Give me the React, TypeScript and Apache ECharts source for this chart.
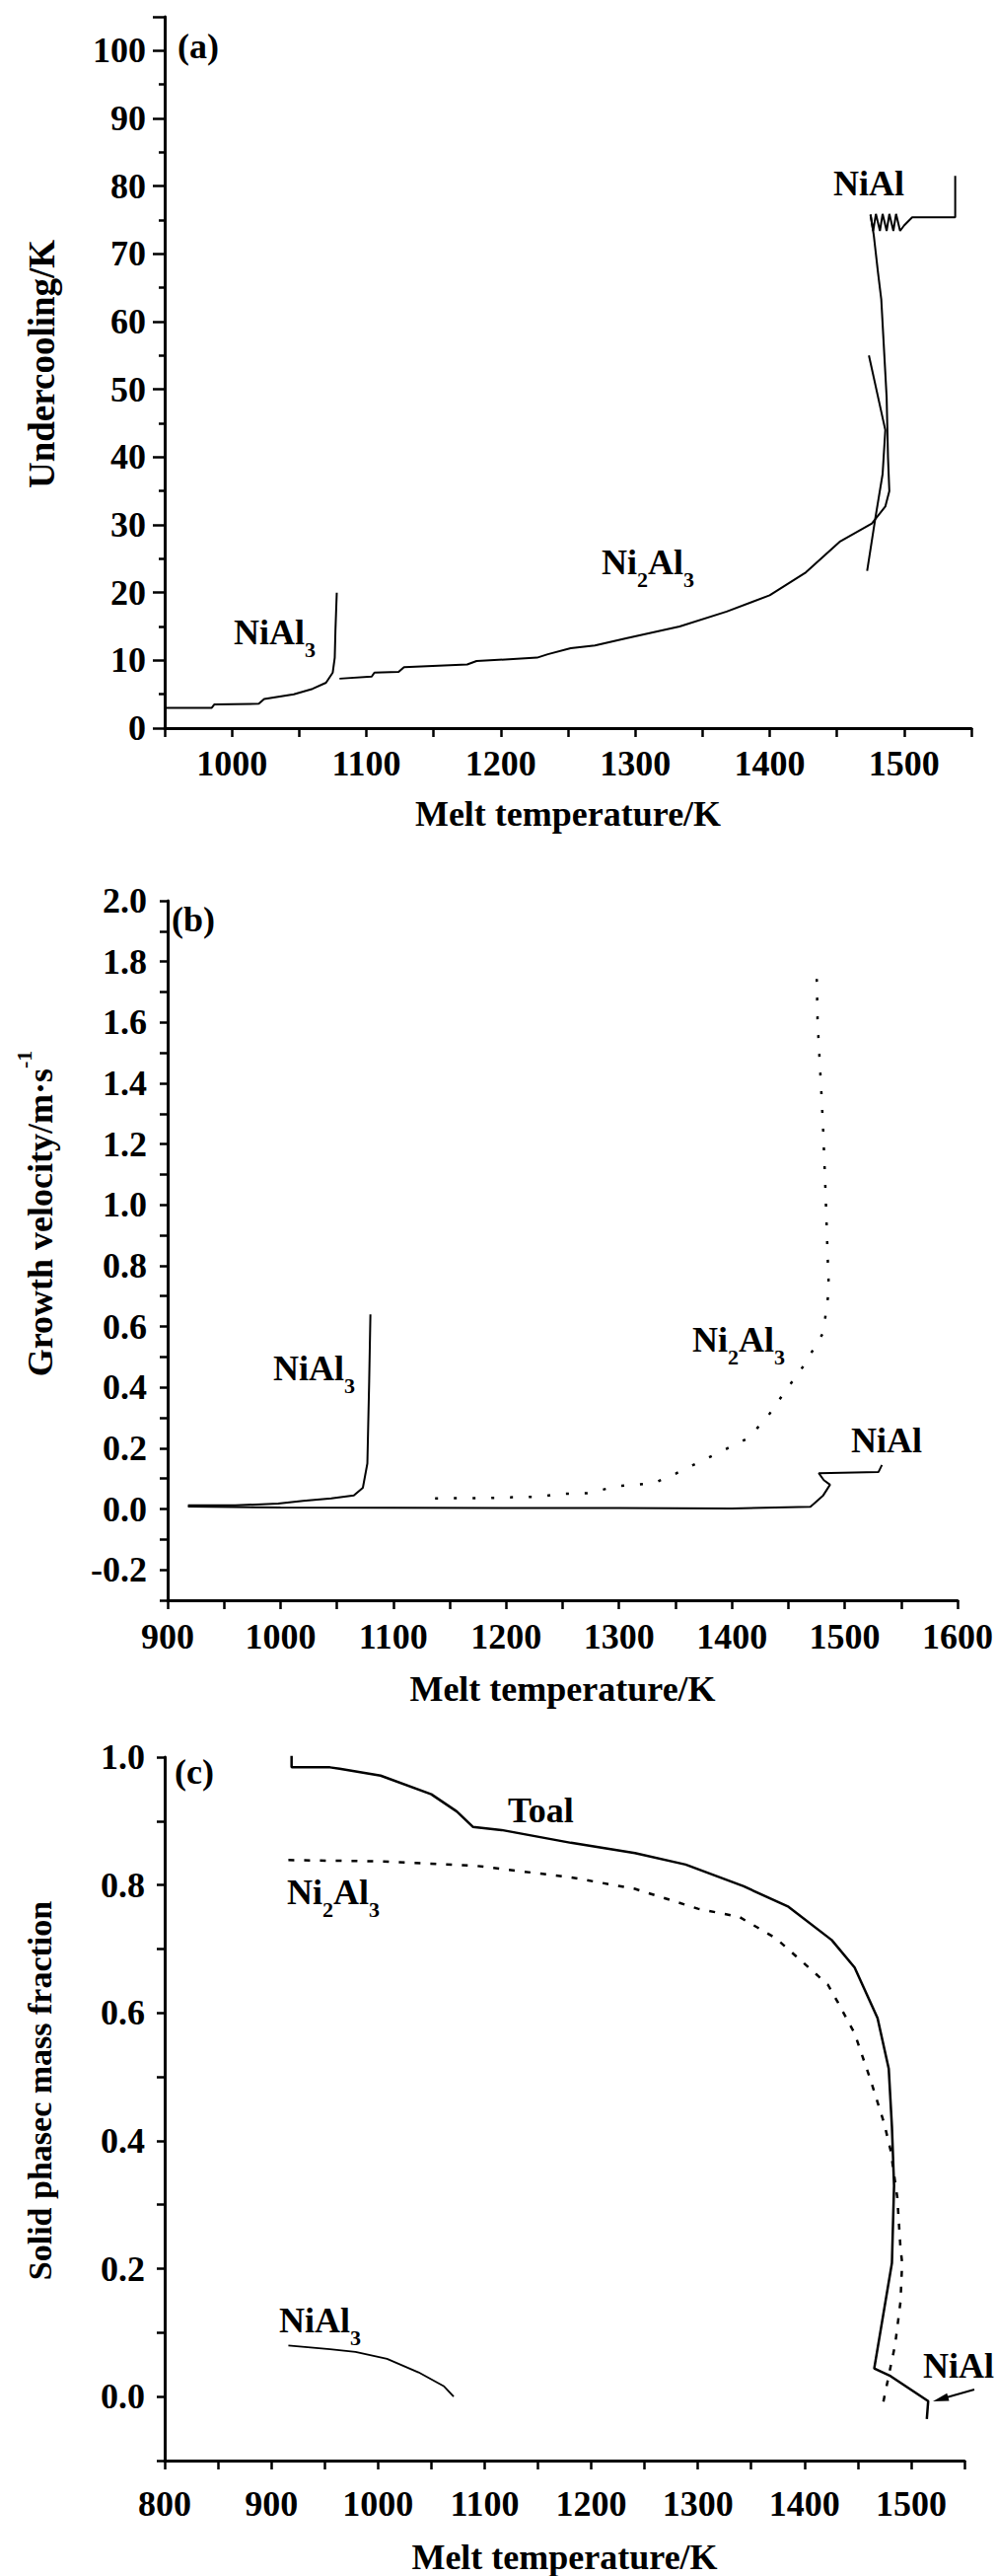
import React, { useEffect, useRef } from "react";
import * as echarts from "echarts";

// ---------- Panel (a): undercooling vs melt temperature ----------
const A_NIAL3: number[][] = [[950,3.0],[985,3.0],[987,3.5],[1020,3.6],[1024,4.3],[1046,5.0],[1060,5.8],[1070,6.7],[1075,8.2],[1076.5,10.4],[1077,14.3],[1078,20]];
const A_NI2AL3: number[][] = [[1080,7.3],[1104,7.6],[1106,8.2],[1124,8.3],[1128,9.0],[1175,9.4],[1182,9.9],[1227,10.4],[1235,10.9],[1252,11.8],[1270,12.2],[1294,13.3],[1333,15.0],[1368,17.2],[1400,19.6],[1427,23.0],[1452,27.5],[1476,30.2],[1486,32.7],[1489,35],[1488,40],[1487,48.8],[1483,63.3],[1480.6,67.2],[1477.4,72.8],[1475,75.8]];
const A_NIAL: number[][] = [[1475,75.8],[1477,73.4],[1479,75.9],[1482,73.4],[1484,75.9],[1487,73.4],[1489,75.9],[1492,73.4],[1494,75.9],[1497,73.4],[1500,74.2],[1506,75.4],[1538,75.4],[1538,81.5]];
const A_CROSS: number[][] = [[1473.8,55],[1486,44],[1484,37.5],[1478.6,31],[1472.5,23.2]];

// ---------- Panel (b): growth velocity ----------
const B_NIAL3: number[][] = [[918,0.012],[960,0.012],[998,0.018],[1020,0.027],[1045,0.035],[1065,0.045],[1073,0.07],[1077,0.15],[1078.6,0.42],[1079.7,0.64]];
const B_NIAL: number[][] = [[918,0.008],[1000,0.005],[1100,0.004],[1200,0.003],[1300,0.003],[1400,0.002],[1469.6,0.007],[1481,0.045],[1487,0.08],[1481.5,0.095],[1477,0.118],[1530,0.122],[1533,0.145]];
const B_NI2AL3: number[][] = [[1137,0.035],[1181,0.036],[1209,0.039],[1231,0.04],[1245,0.05],[1273,0.052],[1298,0.075],[1331,0.085],[1350,0.116],[1414,0.232],[1431,0.30],[1445,0.375],[1464,0.473],[1481,0.58],[1486,0.72],[1485,0.82],[1483,1.045],[1481,1.24],[1479.6,1.35],[1476,1.6],[1475,1.79]];

// ---------- Panel (c): solid phase mass fraction ----------
const C_TOTAL: number[][] = [[919,1.006],[919,0.984],[955,0.984],[964,0.982],[1002.5,0.971],[1050,0.942],[1074,0.915],[1089,0.891],[1116,0.886],[1181,0.866],[1241,0.85],[1288.5,0.832],[1343,0.798],[1385,0.766],[1425.5,0.714],[1447,0.671],[1468.5,0.592],[1479,0.513],[1482,0.422],[1484,0.33],[1482,0.209],[1465.4,0.044],[1480.8,0.032],[1516,-0.007],[1514.7,-0.035]];
const C_NI2AL3: number[][] = [[916,0.839],[1002.5,0.837],[1092,0.83],[1181,0.812],[1241,0.794],[1300,0.763],[1339,0.75],[1373,0.717],[1404,0.671],[1422,0.644],[1431.5,0.616],[1447,0.568],[1462,0.495],[1474.6,0.428],[1480.8,0.385],[1487,0.312],[1490,0.233],[1491.6,0.209],[1490,0.148],[1485,0.081],[1482,0.057],[1473,-0.016]];
const C_NIAL3: number[][] = [[916,0.08],[955,0.074],[979,0.07],[1008.5,0.059],[1038,0.038],[1062,0.016],[1071,0.0]];

const X_TITLE = "Melt temperature/K";
const FONT = '"Liberation Serif", "Times New Roman", serif';

const RICH = {
  n: { fontFamily: FONT, fontSize: 36, fontWeight: "bold", fill: "#000", lineHeight: 56 },
  s: { fontFamily: FONT, fontSize: 22, fontWeight: "bold", fill: "#000", verticalAlign: "bottom" },
  u: { fontFamily: FONT, fontSize: 22, fontWeight: "bold", fill: "#000", verticalAlign: "top" },
};

function xAxis(gridIndex: number, min: number, max: number, nameGap: number, margin: number) {
  return {
    type: "value", gridIndex, min, max, interval: 50,
    name: X_TITLE, nameLocation: "middle", nameGap,
    nameTextStyle: { fontFamily: FONT, fontSize: 36, fontWeight: "bold", color: "#000" },
    axisLine: { onZero: false, lineStyle: { color: "#000", width: 3 } },
    axisTick: { length: 9, lineStyle: { color: "#000", width: 2.5 } },
    axisLabel: {
      margin, fontFamily: FONT, fontSize: 36, fontWeight: "bold", color: "#000",
      formatter: (v: number) => (Math.round(v) % 100 === 0 ? String(Math.round(v)) : ""),
    },
    splitLine: { show: false },
  };
}

function yAxisFrac(gridIndex: number, min: number, max: number, margin: number) {
  return {
    type: "value", gridIndex, min, max, interval: 0.1,
    axisLine: { show: true, onZero: false, lineStyle: { color: "#000", width: 3 } },
    axisTick: { show: true, length: 8, lineStyle: { color: "#000", width: 2.5 } },
    axisLabel: {
      margin, fontFamily: FONT, fontSize: 36, fontWeight: "bold", color: "#000",
      formatter: (v: number) => {
        const k = Math.round(v * 10);
        return k % 2 === 0 ? (k / 10).toFixed(1) : "";
      },
    },
    splitLine: { show: false },
  };
}

function line(idx: number, data: number[][], dash?: number[] | string, width = 2) {
  return {
    type: "line", xAxisIndex: idx, yAxisIndex: idx, data,
    showSymbol: false, symbol: "none", silent: true,
    lineStyle: { color: "#000", width, type: dash || "solid" },
  };
}

function txt(x: number, y: number, text: string, extra: any = {}) {
  return {
    type: "text", x, y, silent: true, ...extra,
    style: {
      text, fill: "#000", fontFamily: FONT, fontSize: 36, fontWeight: "bold",
      align: "left", verticalAlign: "middle", rich: RICH, ...(extra.style || {}),
    },
  };
}

export default function App() {
  const ref = useRef<HTMLDivElement>(null);
  useEffect(() => {
    if (!ref.current) return;
    const chart = echarts.init(ref.current, null, { renderer: "svg" });
    const option: any = {
      animation: false,
      backgroundColor: "#fff",
      grid: [
        { left: 167, top: 17, width: 818, height: 721, containLabel: false },
        { left: 170, top: 913, width: 812, height: 709, containLabel: false },
        { left: 167, top: 1781, width: 811, height: 715, containLabel: false },
      ],
      xAxis: [
        xAxis(0, 950, 1550, 69, 18),
        xAxis(1, 900, 1600, 72, 19),
        xAxis(2, 800, 1550, 80, 26),
      ],
      yAxis: [
        {
          type: "value", gridIndex: 0, min: 0, max: 105, interval: 10,
          axisLine: { show: true, onZero: false, lineStyle: { color: "#000", width: 3 } },
          axisTick: { show: true, length: 12, lineStyle: { color: "#000", width: 2.5 } },
          minorTick: { show: true, splitNumber: 2, length: 6, lineStyle: { color: "#000", width: 2.5 } },
          axisLabel: {
            margin: 19, fontFamily: FONT, fontSize: 36, fontWeight: "bold", color: "#000",
            formatter: (v: number) => (Math.round(v) % 10 === 0 ? String(Math.round(v)) : ""),
          },
          splitLine: { show: false },
        },
        yAxisFrac(1, -0.3, 2.0, 21),
        yAxisFrac(2, -0.1, 1.0, 20),
      ],
      series: [
        line(0, A_NIAL3),
        line(0, A_NI2AL3),
        line(0, A_NIAL),
        line(0, A_CROSS),
        line(1, B_NIAL3),
        line(1, B_NIAL),
        line(1, B_NI2AL3, [3, 16], 2.5),
        line(2, C_TOTAL, "solid", 2.5),
        line(2, C_NI2AL3, [6, 10], 2.5),
        line(2, C_NIAL3, "solid", 1.8),
      ],
      graphic: [
        // y-axis titles
        txt(42, 369, "Undercooling/K", { rotation: Math.PI / 2, style: { align: "center", fontSize: 37 } }),
        txt(41, 1230, "{n|Growth velocity/m·s}{u|-1}", { rotation: Math.PI / 2, style: { align: "center" } }),
        txt(40, 2119, "Solid phasec mass fraction", { rotation: Math.PI / 2, style: { align: "center", fontSize: 34 } }),
        // panel (a)
        txt(180, 47, "(a)"),
        txt(237, 641, "{n|NiAl}{s|3}"),
        txt(610, 570, "{n|Ni}{s|2}{n|Al}{s|3}"),
        txt(845, 186, "NiAl"),
        // panel (b)
        txt(174, 932, "(b)"),
        txt(277, 1387, "{n|NiAl}{s|3}"),
        txt(702, 1358, "{n|Ni}{s|2}{n|Al}{s|3}"),
        txt(863, 1460, "NiAl"),
        // panel (c)
        txt(177, 1796, "(c)"),
        txt(515, 1835, "Toal"),
        txt(291, 1918, "{n|Ni}{s|2}{n|Al}{s|3}"),
        txt(283, 2352, "{n|NiAl}{s|3}"),
        txt(936, 2398, "NiAl"),
        { type: "line", silent: true, shape: { x1: 988, y1: 2422, x2: 958, y2: 2430.5 }, style: { stroke: "#000", lineWidth: 2 } },
        { type: "polygon", silent: true, shape: { points: [[946, 2434], [960.3, 2425.8], [962.5, 2433.4]] }, style: { fill: "#000" } },
      ],
    };
    chart.setOption(option);
    return () => chart.dispose();
  }, []);
  return (
    <div
      ref={ref}
      style={{ position: "absolute", left: 0, top: 0, width: 1010, height: 2611, background: "#fff" }}
    />
  );
}
